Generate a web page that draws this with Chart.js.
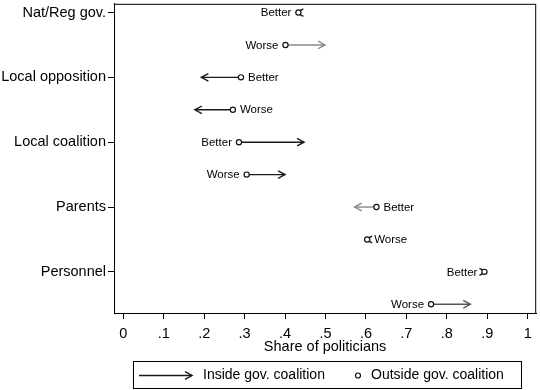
<!DOCTYPE html>
<html>
<head>
<meta charset="utf-8">
<script src="https://cdn.jsdelivr.net/npm/chart.js@4.4.1/dist/chart.umd.min.js"></script>
<style>
  body { margin: 0; background: #fff; }
  #wrap { width: 540px; height: 390px; }
</style>
</head>
<body>
<div id="wrap"><canvas id="arrowChart"></canvas></div>
<script>
// categories and the two ratings shown for each
const categories = ['Nat/Reg gov.', 'Local opposition', 'Local coalition', 'Parents', 'Personnel'];
const ratings = ['Better', 'Worse'];

// share of politicians, outside vs inside the governing coalition
const outsideBetter = [0.433, 0.291, 0.286, 0.626, 0.893];
const insideBetter  = [0.428, 0.193, 0.447, 0.572, 0.897];
const outsideWorse  = [0.401, 0.271, 0.305, 0.603, 0.761];
const insideWorse   = [0.499, 0.177, 0.400, 0.600, 0.858];

const xTicks = [0, 0.1, 0.2, 0.3, 0.4, 0.5, 0.6, 0.7, 0.8, 0.9, 1];
const xTickLabels = ['0', '.1', '.2', '.3', '.4', '.5', '.6', '.7', '.8', '.9', '1'];

// styling: arrow colour per row, label side per category
const arrowColors = ['#1a1a1a', '#888', '#1a1a1a', '#1a1a1a', '#1a1a1a', '#1a1a1a', '#888', '#1a1a1a', '#1a1a1a', '#555'];
const labelSides = ['left', 'right', 'left', 'right', 'left'];

const FONT = '"Liberation Sans", Arial, sans-serif';

// build rows: Better then Worse for each category
const outsidePts = [];
const insidePts = [];
const rowNames = [];
categories.forEach((c, i) => {
    outsidePts.push({ x: outsideBetter[i], y: i * 2 });
    insidePts.push({ x: insideBetter[i], y: i * 2 });
    rowNames.push(ratings[0]);
    outsidePts.push({ x: outsideWorse[i], y: i * 2 + 1 });
    insidePts.push({ x: insideWorse[i], y: i * 2 + 1 });
    rowNames.push(ratings[1]);
});

function drawArrow(ctx, x0, y0, x1, y1, color) {
    ctx.save();
    ctx.strokeStyle = color;
    ctx.lineWidth = 1.4;
    ctx.beginPath();
    ctx.moveTo(x0, y0);
    ctx.lineTo(x1, y1);
    ctx.stroke();
    const dir = x1 >= x0 ? 1 : -1;
    // very short arrows get a slightly smaller head
    const len = Math.abs(x1 - x0);
    const hl = Math.min(7, 5 + len);
    const hw = hl * 0.54;
    ctx.beginPath();
    ctx.moveTo(x1 - dir * hl, y1 - hw);
    ctx.lineTo(x1, y1);
    ctx.lineTo(x1 - dir * hl, y1 + hw);
    ctx.stroke();
    ctx.restore();
}

const arrowPlugin = {
    id: 'arrows',
    beforeDatasetsDraw(chart) {
        const ctx = chart.ctx;
        const outMeta = chart.getDatasetMeta(0);
        const inMeta = chart.getDatasetMeta(1);
        outMeta.data.forEach((pt, i) => {
            const tip = inMeta.data[i];
            drawArrow(ctx, pt.x, pt.y, tip.x, tip.y, arrowColors[i]);
        });
    },
    afterDatasetsDraw(chart) {
        const ctx = chart.ctx;
        const outMeta = chart.getDatasetMeta(0);
        ctx.save();
        ctx.font = '11.5px ' + FONT;
        ctx.fillStyle = '#000';
        ctx.textBaseline = 'middle';
        outMeta.data.forEach((pt, i) => {
            const onLeft = labelSides[Math.floor(i / 2)] === 'left';
            ctx.textAlign = onLeft ? 'right' : 'left';
            ctx.fillText(rowNames[i], pt.x + (onLeft ? -7 : 7), pt.y + 0.5);
        });
        ctx.restore();
    },
    afterDraw(chart) {
        const ctx = chart.ctx;
        const a = chart.chartArea;
        ctx.save();
        // frame around plot region
        ctx.strokeStyle = '#000';
        ctx.lineWidth = 1;
        ctx.strokeRect(a.left + 0.5, a.top + 0.5, a.right - a.left - 1, a.bottom - a.top);

        // legend box
        const bx = 133, by = 361, bw = 388, bh = 27;
        ctx.strokeRect(bx + 0.5, by + 0.5, bw, bh);
        const cy = by + bh / 2 + 1;
        drawArrow(ctx, bx + 6, cy, bx + 59, cy, '#1a1a1a');
        ctx.font = '14px ' + FONT;
        ctx.fillStyle = '#000';
        ctx.textBaseline = 'middle';
        ctx.textAlign = 'left';
        ctx.fillText(chart.data.datasets[1].label, bx + 70, cy);
        ctx.beginPath();
        ctx.arc(bx + 225, cy, 2.5, 0, Math.PI * 2);
        ctx.fillStyle = '#fff';
        ctx.fill();
        ctx.lineWidth = 1.2;
        ctx.strokeStyle = '#111';
        ctx.stroke();
        ctx.fillStyle = '#000';
        ctx.fillText(chart.data.datasets[0].label, bx + 238, cy);
        ctx.restore();
    }
};

const ctx = document.getElementById('arrowChart').getContext('2d');
const chart = new Chart(ctx, {
    type: 'scatter',
    data: {
        datasets: [{
            label: 'Outside gov. coalition',
            data: outsidePts,
            pointRadius: 2.6,
            pointBorderWidth: 1.2,
            pointBackgroundColor: '#fff',
            pointBorderColor: '#111',
            pointHoverRadius: 2.6
        }, {
            label: 'Inside gov. coalition',
            data: insidePts,
            pointRadius: 0,
            pointHoverRadius: 0
        }]
    },
    plugins: [arrowPlugin],
    options: {
        responsive: true,
        maintainAspectRatio: false,
        animation: false,
        events: [],
        layout: {
            padding: { top: 1, right: 2, left: 0, bottom: 34 }
        },
        plugins: {
            legend: { display: false },
            tooltip: { enabled: false }
        },
        scales: {
            x: {
                type: 'linear',
                min: -0.023,
                max: 1.021,
                afterBuildTicks: (scale) => {
                    scale.ticks = xTicks.map(v => ({ value: v }));
                },
                afterFit: (scale) => {
                    scale.height = 43;
                    scale.paddingLeft = 0;
                    scale.paddingRight = 0;
                },
                ticks: {
                    color: '#000',
                    font: { family: FONT, size: 14.5 },
                    padding: 6,
                    maxRotation: 0,
                    callback: (v) => xTickLabels[xTicks.indexOf(v)]
                },
                grid: {
                    drawOnChartArea: false,
                    tickLength: 6,
                    color: '#000'
                },
                border: { color: '#000' },
                title: {
                    display: true,
                    text: 'Share of politicians',
                    color: '#000',
                    font: { family: FONT, size: 14.5 },
                    padding: { top: -6, bottom: 0 }
                }
            },
            y: {
                type: 'linear',
                reverse: true,
                min: -0.27,
                max: 9.27,
                afterBuildTicks: (scale) => {
                    scale.ticks = categories.map((c, i) => ({ value: i * 2 }));
                },
                afterFit: (scale) => {
                    scale.width = 114;
                    scale.paddingTop = 0;
                    scale.paddingBottom = 0;
                },
                ticks: {
                    color: '#000',
                    font: { family: FONT, size: 14.5 },
                    padding: 2,
                    callback: (v) => categories[v / 2]
                },
                grid: {
                    drawOnChartArea: false,
                    tickLength: 6,
                    color: '#000'
                },
                border: { color: '#000' }
            }
        }
    }
});
</script>
</body>
</html>
